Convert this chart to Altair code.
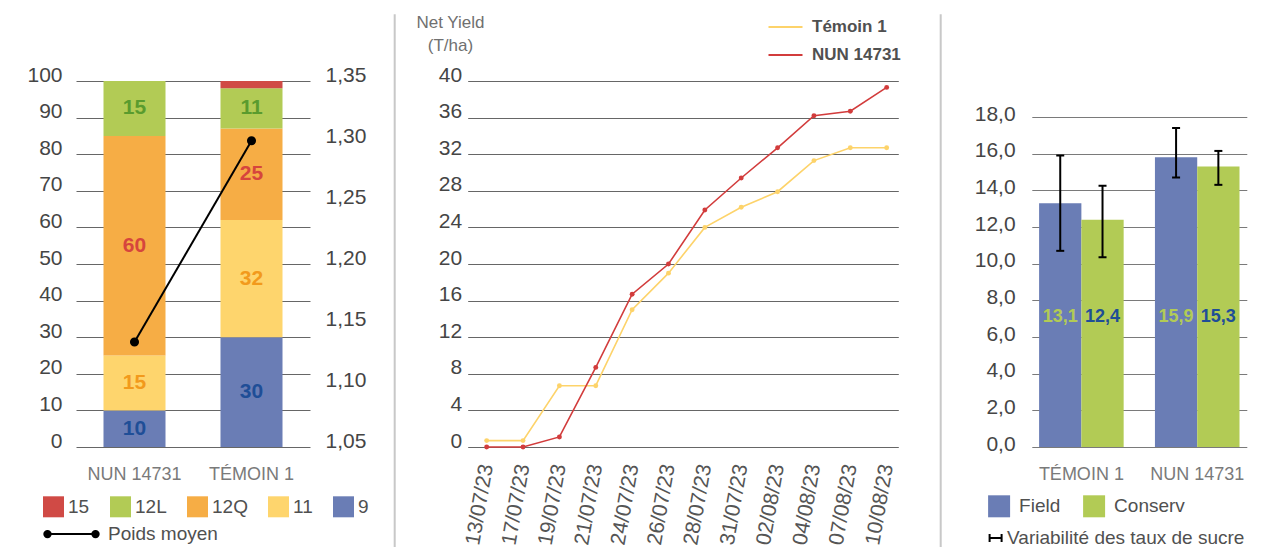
import altair as alt
import pandas as pd

FONT = "Liberation Sans"

# ---------------- Panel 1 : calibres + poids moyen ----------------
groups = ["NUN 14731", "TÉMOIN 1"]
stack_classes = ["9", "11", "12Q", "12L", "15"]          # bottom -> top
nun_share = [10, 15, 60, 15, 0]
temoin_share = [30, 32, 25, 11, 2]
poids_moyen = [1.136, 1.301]
legend_classes = ["15", "12L", "12Q", "11", "9"]
legend_fill = ["#d04a45", "#b2cb55", "#f6ad45", "#fed56d", "#6a7db5"]
legend_text = ["#d04a45", "#5a9b2e", "#d6453d", "#f29a1c", "#1f4e97"]
left_ticks = [0, 10, 20, 30, 40, 50, 60, 70, 80, 90, 100]
right_ticks = [1.05, 1.10, 1.15, 1.20, 1.25, 1.30, 1.35]

# ---------------- Panel 2 : net yield ----------------
dates = ["13/07/23", "17/07/23", "19/07/23", "21/07/23", "24/07/23", "26/07/23",
         "28/07/23", "31/07/23", "02/08/23", "04/08/23", "07/08/23", "10/08/23"]
temoin_yield = [0.7, 0.7, 6.7, 6.7, 15.0, 19.0, 24.0, 26.2, 27.9, 31.3, 32.7, 32.7]
nun_yield = [0.0, 0.0, 1.1, 8.7, 16.7, 20.0, 25.9, 29.4, 32.7, 36.2, 36.7, 39.3]
yield_ticks = [0, 4, 8, 12, 16, 20, 24, 28, 32, 36, 40]
yield_series = ["Témoin 1", "NUN 14731"]
yield_colors = ["#fdd36a", "#d23c3c"]

# ---------------- Panel 3 : taux de sucre ----------------
varieties = ["TÉMOIN 1", "NUN 14731"]
sugar_series = ["Field", "Conserv"]
sugar_colors = ["#6a7db5", "#b2cb55"]
sugar_label_colors = ["#b2cb55", "#1f4e97"]
field_sugar = [13.3, 15.8]
conserv_sugar = [12.4, 15.3]
field_labels = ["13,1", "15,9"]
conserv_labels = ["12,4", "15,3"]
field_low = [10.7, 14.7]
field_high = [15.9, 17.4]
conserv_low = [10.35, 14.3]
conserv_high = [14.25, 16.15]
sugar_ticks = [0, 2, 4, 6, 8, 10, 12, 14, 16, 18]
sugar_label_level = 7.1

# ---------------- tables ----------------
rows1 = []
for g, shares in zip(groups, [nun_share, temoin_share]):
    base = 0
    for k, (c, v) in enumerate(zip(stack_classes, shares)):
        rows1.append({"group": g, "cls": c, "value": v, "ord": k,
                      "mid": base + v / 2, "label": str(v) if v >= 5 else ""})
        base += v
df1 = pd.DataFrame(rows1)
df1_line = pd.DataFrame({"group": groups, "poids": poids_moyen,
                         "series": ["Poids moyen"] * len(groups)})

rows2 = []
for s, vals in zip(yield_series, [temoin_yield, nun_yield]):
    for d, v in zip(dates, vals):
        rows2.append({"date": d, "yield": v, "series": s})
df2 = pd.DataFrame(rows2)

rows3 = []
for i, v in enumerate(varieties):
    rows3.append({"variety": v, "series": "Field", "value": field_sugar[i],
                  "label": field_labels[i], "low": field_low[i], "high": field_high[i],
                  "err": "Variabilité des taux de sucre"})
    rows3.append({"variety": v, "series": "Conserv", "value": conserv_sugar[i],
                  "label": conserv_labels[i], "low": conserv_low[i], "high": conserv_high[i],
                  "err": "Variabilité des taux de sucre"})
df3 = pd.DataFrame(rows3)
one = pd.DataFrame({"k": [0]})

NUM_COLOR = "#454545"
CAT_COLOR = "#7a7a7a"
LEG_COLOR = "#505050"

def num_axis(**kw):
    base = dict(ticks=False, tickSize=0, domain=False, labelFontSize=21,
                labelColor=NUM_COLOR, labelFont=FONT, title=None, labelOverlap=False)
    base.update(kw)
    return alt.Axis(**base)

def cat_axis(**kw):
    base = dict(title=None, labelAngle=0, ticks=False, tickSize=0, domain=False,
                labelFontSize=18, labelColor=CAT_COLOR, labelPadding=18, labelFont=FONT)
    base.update(kw)
    return alt.Axis(**base)

# ---------------- Panel 1 ----------------
x1 = alt.X("group:N", sort=groups,
           scale=alt.Scale(paddingInner=0.47, paddingOuter=0.235),
           axis=cat_axis())
y1_axis = num_axis(values=left_ticks, grid=True, gridColor="#666666", gridWidth=1,
                   labelPadding=14, labelOffset=-6)
y1_scale = alt.Scale(domain=[0, 100], nice=False)

bars1 = alt.Chart(df1).mark_bar().encode(
    x=x1,
    y=alt.Y("value:Q", stack="zero", scale=y1_scale, axis=y1_axis),
    fill=alt.Fill("cls:N", scale=alt.Scale(domain=legend_classes, range=legend_fill),
                  legend=alt.Legend(orient="none", legendX=-33, legendY=415.3,
                                    direction="horizontal", title=None,
                                    symbolType="square", symbolSize=441,
                                    symbolStrokeWidth=0, labelFontSize=19,
                                    labelColor=LEG_COLOR, labelFont=FONT,
                                    labelOffset=4, columnPadding=20, padding=0)),
    order=alt.Order("ord:Q", sort="ascending"),
)

text1 = alt.Chart(df1).mark_text(font=FONT, fontSize=21, fontWeight="bold").encode(
    x=x1,
    y=alt.Y("mid:Q", scale=y1_scale, axis=y1_axis),
    text="label:N",
    color=alt.Color("cls:N", scale=alt.Scale(domain=legend_classes, range=legend_text),
                    legend=None),
)

anchor = alt.Chart(one).mark_rule(color="white", strokeWidth=1).encode(
    x=alt.value(-67.5), x2=alt.value(-66), y=alt.value(-72.2)
)

POIDS_SYMBOL = ("M-6.75,0L6.75,0"
                "M-6.8,0A0.8,0.8,0,1,0,-5.2,0A0.8,0.8,0,1,0,-6.8,0Z"
                "M5.2,0A0.8,0.8,0,1,0,6.8,0A0.8,0.8,0,1,0,5.2,0Z")

line1 = alt.Chart(df1_line).mark_line(
    strokeWidth=2, point=alt.OverlayMarkDef(filled=True, size=50, fill="black")
).encode(
    x=x1,
    y=alt.Y("poids:Q", scale=alt.Scale(domain=[1.05, 1.35], nice=False, zero=False),
            axis=num_axis(orient="right", values=right_ticks, format=".2f",
                          labelExpr="replace(datum.label, '.', ',')", grid=False,
                          labelPadding=15, labelOffset=-6)),
    stroke=alt.Stroke("series:N", scale=alt.Scale(domain=["Poids moyen"], range=["black"]),
                      legend=alt.Legend(orient="none", legendX=-14, legendY=443.6,
                                        title=None, symbolType=POIDS_SYMBOL, symbolSize=64,
                                        symbolStrokeWidth=2, symbolStrokeColor="black",
                                        symbolFillColor="black", labelFontSize=19,
                                        labelColor=LEG_COLOR, labelFont=FONT,
                                        labelOffset=27, padding=0)),
)

p1 = alt.layer(alt.layer(bars1, text1, anchor), line1).resolve_scale(
    y="independent"
).properties(width=234, height=366)

# ---------------- Panel 2 ----------------
LINE_SYMBOL = "M-4.25,0L4.25,0"
lines2 = alt.Chart(df2).mark_line(
    strokeWidth=1.6, point=alt.OverlayMarkDef(filled=True, size=24)
).encode(
    x=alt.X("date:N", sort=dates,
            scale=alt.Scale(type="point", range=[24.3, 454.9], padding=0.4208,
                            align=0.62, round=False),
            axis=alt.Axis(title=None, labelAngle=-80, labelAlign="right",
                          labelBaseline="middle", ticks=False, tickSize=0, domain=False,
                          labelFontSize=21, labelColor="#555555", labelFont=FONT,
                          labelPadding=17, labelOverlap=False)),
    y=alt.Y("yield:Q", scale=alt.Scale(domain=[0, 40], nice=False),
            axis=num_axis(values=yield_ticks, grid=True, gridColor="#666666", gridWidth=1,
                          labelPadding=6, labelOffset=-6, offset=-24.3,
                          title=["Net Yield", "(T/ha)"], titleAngle=0, titleX=-17.7,
                          titleY=-54, titleAlign="center", titleBaseline="alphabetic",
                          titleFontSize=17, titleFontWeight="normal", titleColor="#707070",
                          titleFont=FONT, titleLineHeight=23)),
    color=alt.Color("series:N", sort=yield_series,
                    scale=alt.Scale(domain=yield_series, range=yield_colors),
                    legend=alt.Legend(orient="none", legendX=333.6, legendY=-62.5,
                                      title=None, symbolType=LINE_SYMBOL, symbolSize=64,
                                      symbolStrokeWidth=2, labelFontSize=17,
                                      labelFontWeight="bold", labelColor=LEG_COLOR,
                                      labelFont=FONT, labelOffset=18, rowPadding=10,
                                      padding=0)),
)

sep_a = alt.Chart(one).mark_rule(color="#c8c8c8", strokeWidth=2).encode(
    x=alt.value(-48.7), y=alt.value(-66.7), y2=alt.value(470)
)
sep_b = alt.Chart(one).mark_rule(color="#c8c8c8", strokeWidth=2).encode(
    x=alt.value(497.3), y=alt.value(-66.7), y2=alt.value(470)
)

p2 = alt.layer(sep_a, sep_b, lines2).properties(width=454.9, height=366)

# ---------------- Panel 3 ----------------
x3 = alt.X("variety:N", sort=varieties,
           scale=alt.Scale(paddingInner=0.27, paddingOuter=0.063),
           axis=cat_axis())
xo3 = alt.XOffset("series:N", sort=sugar_series,
                  scale=alt.Scale(domain=sugar_series, paddingInner=0, paddingOuter=0))
y3_scale = alt.Scale(domain=[0, 19.964], nice=False)
y3_axis = num_axis(values=sugar_ticks, grid=True, gridColor="#7a7a7a", gridWidth=1,
                   format=".1f", labelExpr="replace(datum.label, '.', ',')",
                   labelPadding=16.7, labelOffset=-3)

bars3 = alt.Chart(df3).mark_bar().encode(
    x=x3, xOffset=xo3,
    y=alt.Y("value:Q", scale=y3_scale, axis=y3_axis),
    fill=alt.Fill("series:N", scale=alt.Scale(domain=sugar_series, range=sugar_colors),
                  legend=alt.Legend(orient="none", legendX=-43.7, legendY=414.3,
                                    direction="horizontal", title=None,
                                    symbolType="square", symbolSize=484,
                                    symbolStrokeWidth=0, labelFontSize=19,
                                    labelColor=LEG_COLOR, labelFont=FONT,
                                    labelOffset=9, columnPadding=22, padding=0)),
)

ERR_SYMBOL = "M-1.5,-1L-1.5,1M-1.5,0L1.5,0M1.5,-1L1.5,1"
err_rule = alt.Chart(df3).mark_rule(strokeWidth=2).encode(
    x=x3, xOffset=xo3,
    y=alt.Y("low:Q", scale=y3_scale, axis=y3_axis), y2="high:Q",
    stroke=alt.Stroke("err:N", scale=alt.Scale(domain=["Variabilité des taux de sucre"],
                                               range=["black"]),
                      legend=alt.Legend(orient="none", legendX=-45.7, legendY=447.6,
                                        title=None, symbolType=ERR_SYMBOL, symbolSize=64,
                                        symbolStrokeWidth=2, labelFontSize=19,
                                        labelColor=LEG_COLOR, labelFont=FONT,
                                        labelOffset=2, labelLimit=400, padding=0)),
)
cap_low = alt.Chart(df3).mark_tick(color="black", thickness=2, size=8, opacity=1).encode(
    x=x3, xOffset=xo3, y=alt.Y("low:Q", scale=y3_scale, axis=y3_axis)
)
cap_high = alt.Chart(df3).mark_tick(color="black", thickness=2, size=8, opacity=1).encode(
    x=x3, xOffset=xo3, y=alt.Y("high:Q", scale=y3_scale, axis=y3_axis)
)
labels3 = alt.Chart(df3).mark_text(font=FONT, fontSize=18, fontWeight="bold").encode(
    x=x3, xOffset=xo3,
    y=alt.datum(sugar_label_level, scale=y3_scale, axis=y3_axis),
    text="label:N",
    color=alt.Color("series:N", scale=alt.Scale(domain=sugar_series, range=sugar_label_colors),
                    legend=None),
)

p3 = alt.layer(bars3, err_rule, cap_low, cap_high, labels3).properties(width=215, height=366)

chart = alt.hconcat(p1, p2, p3, spacing=133.4, bounds="flush").resolve_scale(
    color="independent", fill="independent", stroke="independent"
).resolve_legend(
    color="independent", fill="independent", stroke="independent"
).properties(
    padding={"left": 0, "top": 0, "right": 5, "bottom": 0}
).configure_view(stroke=None).configure_axis(labelFont=FONT, titleFont=FONT)

chart.save("out.html", embed_options={"renderer": "svg", "actions": False})
